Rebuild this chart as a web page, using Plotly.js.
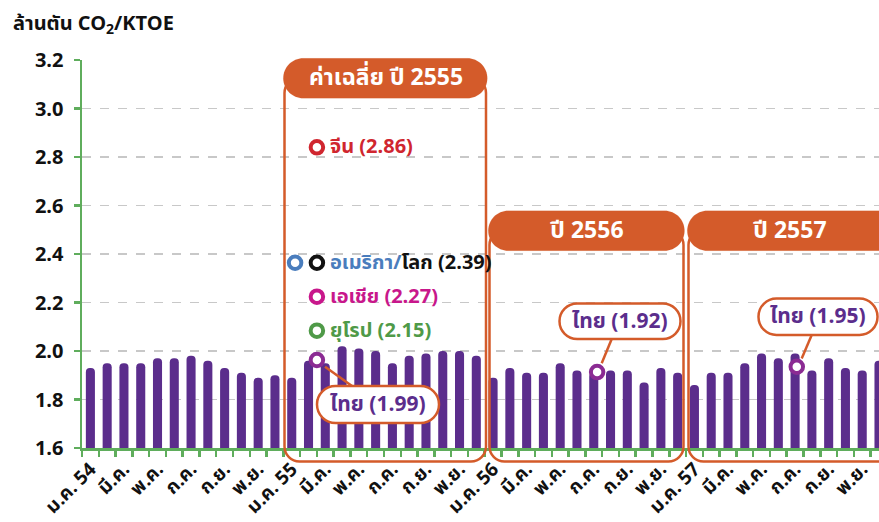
<!DOCTYPE html>
<html>
<head>
<meta charset="utf-8">
<script src="https://cdn.plot.ly/plotly-3.0.1.min.js"></script>
<style>html,body{margin:0;padding:0;overflow:hidden;background:#fff}</style>
</head>
<body>
<div id="chart" style="width:879px;height:522px"></div>
<script>
// ---- data ----
const monthIndex = Array.from({length:48}, (_, i) => i);
const intensity = [
  1.93,1.95,1.95,1.95,1.97,1.97,1.98,1.96,1.93,1.91,1.89,1.90,
  1.89,1.96,1.95,2.02,2.01,2.00,1.95,1.98,1.99,2.00,2.00,1.98,
  1.89,1.93,1.91,1.91,1.95,1.92,1.91,1.92,1.92,1.87,1.93,1.91,
  1.86,1.91,1.91,1.95,1.99,1.97,1.99,1.92,1.97,1.93,1.92,1.96
];
const tickVals = [0,2,4,6,8,10,12,14,16,18,20,22,24,26,28,30,32,34,36,38,40,42,44,46];
const tickText = ['ม.ค. 54','มี.ค.','พ.ค.','ก.ค.','ก.ย.','พ.ย.',
                  'ม.ค. 55','มี.ค.','พ.ค.','ก.ค.','ก.ย.','พ.ย.',
                  'ม.ค. 56','มี.ค.','พ.ค.','ก.ค.','ก.ย.','พ.ย.',
                  'ม.ค. 57','มี.ค.','พ.ค.','ก.ค.','ก.ย.','พ.ย.'];

// 2555 average markers
const avgNames  = ['จีน','อเมริกา','โลก','เอเชีย','ยุโรป','ไทย'];
const avgValues = [2.86, 2.39, 2.39, 2.27, 2.15, 1.99];
const avgColors = ['#d0262f','#4a7dbd','#111111','#c8178b','#4f9a48','#8b2b93'];
const avgMarkX  = [13.5, 12.2, 13.5, 13.5, 13.5, 13.5];
const avgMarkY  = [2.84, 2.364, 2.364, 2.224, 2.084, 1.963];

// Thailand yearly callouts
const yearLabels = ['ค่าเฉลี่ย ปี 2555','ปี 2556','ปี 2557'];
const thaiYearValues = [1.99, 1.92, 1.95];
const thaiMarkX = [30.2, 42.1];
const thaiMarkY = [1.913, 1.935];

// ---- layout helpers ----
const W = 879, H = 522, ML = 82, MT = 60, MB = 74, MR = 0;
const PW = W - ML - MR, PH = H - MT - MB;
const fx = p => (p - ML) / PW;
const fy = p => (H - MB - p) / PH;
const ORANGE = '#d45b2a', PURPLE = '#5b2d8c', GREEN = '#5fad5c';
const FONT = 'Noto Sans Thai, Noto Sans, Open Sans, sans-serif';

function rr(x0, y0, x1, y1, r) {
  const k = 0.5523 * r;
  const P = (x, y) => fx(x).toFixed(5) + ',' + fy(y).toFixed(5);
  return 'M' + P(x0 + r, y0) +
    ' L' + P(x1 - r, y0) +
    ' C' + P(x1 - r + k, y0) + ' ' + P(x1, y0 + r - k) + ' ' + P(x1, y0 + r) +
    ' L' + P(x1, y1 - r) +
    ' C' + P(x1, y1 - r + k) + ' ' + P(x1 - r + k, y1) + ' ' + P(x1 - r, y1) +
    ' L' + P(x0 + r, y1) +
    ' C' + P(x0 + r - k, y1) + ' ' + P(x0, y1 - r + k) + ' ' + P(x0, y1 - r) +
    ' L' + P(x0, y0 + r) +
    ' C' + P(x0, y0 + r - k) + ' ' + P(x0 + r - k, y0) + ' ' + P(x0 + r, y0) + ' Z';
}
function pathShape(d, fill, lineColor, lw) {
  return {type:'path', xref:'paper', yref:'paper', path:d,
          fillcolor: fill, line:{color: lineColor, width: lw}};
}
function lineShape(x0, y0, x1, y1) {
  return {type:'line', xref:'paper', yref:'paper', x0:fx(x0), y0:fy(y0), x1:fx(x1), y1:fy(y1),
          line:{color: ORANGE, width: 2.5}};
}

const shapes = [
  pathShape(rr(284.5, 78, 486, 461.5, 15), 'rgba(0,0,0,0)', ORANGE, 2.5),
  pathShape(rr(489.5, 230, 683.5, 461.5, 15), 'rgba(0,0,0,0)', ORANGE, 2.5),
  pathShape(rr(688.5, 230, 905, 461.5, 15), 'rgba(0,0,0,0)', ORANGE, 2.5),
  pathShape(rr(283.3, 58.3, 487.3, 98.3, 20), ORANGE, ORANGE, 0.1),
  pathShape(rr(488.3, 210.7, 684.5, 250.7, 20), ORANGE, ORANGE, 0.1),
  pathShape(rr(687.3, 210.7, 915, 250.7, 20), ORANGE, ORANGE, 0.1),
  pathShape(rr(317, 386, 439, 423, 18.5), '#ffffff', ORANGE, 2.5),
  pathShape(rr(559.5, 303.5, 680.5, 339, 17.7), '#ffffff', ORANGE, 2.5),
  pathShape(rr(758.5, 298.5, 877.5, 335, 18), '#ffffff', ORANGE, 2.5),
  lineShape(325, 366.7, 352, 386),
  lineShape(601.7, 363.3, 611.7, 339),
  lineShape(801.7, 358.5, 811.7, 335)
];

function ann(text, px, py, color, size, xanchor) {
  return {xref:'paper', yref:'paper', x:fx(px), y:fy(py), text:text, showarrow:false,
          xanchor: xanchor || 'center', yanchor:'middle',
          font:{family:FONT, size:size, color:color, weight:'bold'}};
}
const fmt = v => '(' + v.toFixed(2) + ')';

const annotations = [
  ann('ล้านตัน CO<sub>2</sub>/KTOE', 11, 24, '#111', 20, 'left'),
  ann(yearLabels[0], 386, 78.3, '#fff', 23),
  ann(yearLabels[1], 587, 230.7, '#fff', 23),
  ann(yearLabels[2], 790, 230.7, '#fff', 23),
  ann(avgNames[5] + ' ' + fmt(thaiYearValues[0]), 378, 404.5, PURPLE, 21),
  ann(avgNames[5] + ' ' + fmt(thaiYearValues[1]), 620, 321.2, PURPLE, 21),
  ann(avgNames[5] + ' ' + fmt(thaiYearValues[2]), 818, 316.7, PURPLE, 21),
  ann(avgNames[0] + ' ' + fmt(avgValues[0]), 328, 147, avgColors[0], 20, 'left'),
  ann('<span style="color:' + avgColors[1] + '">' + avgNames[1] + '/</span>' + avgNames[2] + ' ' + fmt(avgValues[2]),
      328, 263, avgColors[2], 20, 'left'),
  ann(avgNames[3] + ' ' + fmt(avgValues[3]), 328, 297, avgColors[3], 20, 'left'),
  ann(avgNames[4] + ' ' + fmt(avgValues[4]), 328, 331, avgColors[4], 20, 'left')
];

const traces = [
  {type:'bar', x:monthIndex, y:intensity, width:0.54,
   marker:{color:PURPLE, cornerradius:'50%', line:{width:0}}, hoverinfo:'x+y'},
  {type:'scatter', mode:'markers', x:avgMarkX, y:avgMarkY, cliponaxis:false,
   marker:{size:12.5, color:'#ffffff', line:{width:4, color:avgColors}}},
  {type:'scatter', mode:'markers', x:thaiMarkX, y:thaiMarkY, cliponaxis:false,
   marker:{size:12.5, color:'#ffffff', line:{width:4, color:avgColors[5]}}}
];

const layout = {
  width: W, height: H,
  margin:{l:ML, r:MR, t:MT, b:MB, pad:0},
  paper_bgcolor:'#fff', plot_bgcolor:'#fff',
  showlegend:false,
  font:{family:FONT, color:'#111'},
  xaxis:{type:'linear', range:[-0.5, 47], tickvals:tickVals, ticktext:tickText,
         tickangle:-45, ticks:'', showgrid:false, zeroline:false,
         showline:true, linecolor:GREEN, linewidth:2.5,
         tickfont:{family:FONT, size:19, color:'#111', weight:'bold'},
         minor:{tick0:-0.5, dtick:1, ticks:'outside', ticklen:6, tickwidth:2.5, tickcolor:GREEN, showgrid:false}},
  yaxis:{range:[1.6, 3.2], tick0:1.6, dtick:0.2, tickformat:'.1f',
         ticks:'outside', ticklen:6, tickwidth:2.5, tickcolor:GREEN,
         showline:true, linecolor:GREEN, linewidth:2.5, zeroline:false,
         showgrid:true, gridcolor:'#c8c8c8', griddash:'dash', gridwidth:1.5,
         ticklabelstandoff:6,
         tickfont:{family:FONT, size:20, color:'#111', weight:'bold'}},
  shapes: shapes,
  annotations: annotations
};

Plotly.newPlot('chart', traces, layout, {displayModeBar:false, staticPlot:true});
</script>
</body>
</html>
